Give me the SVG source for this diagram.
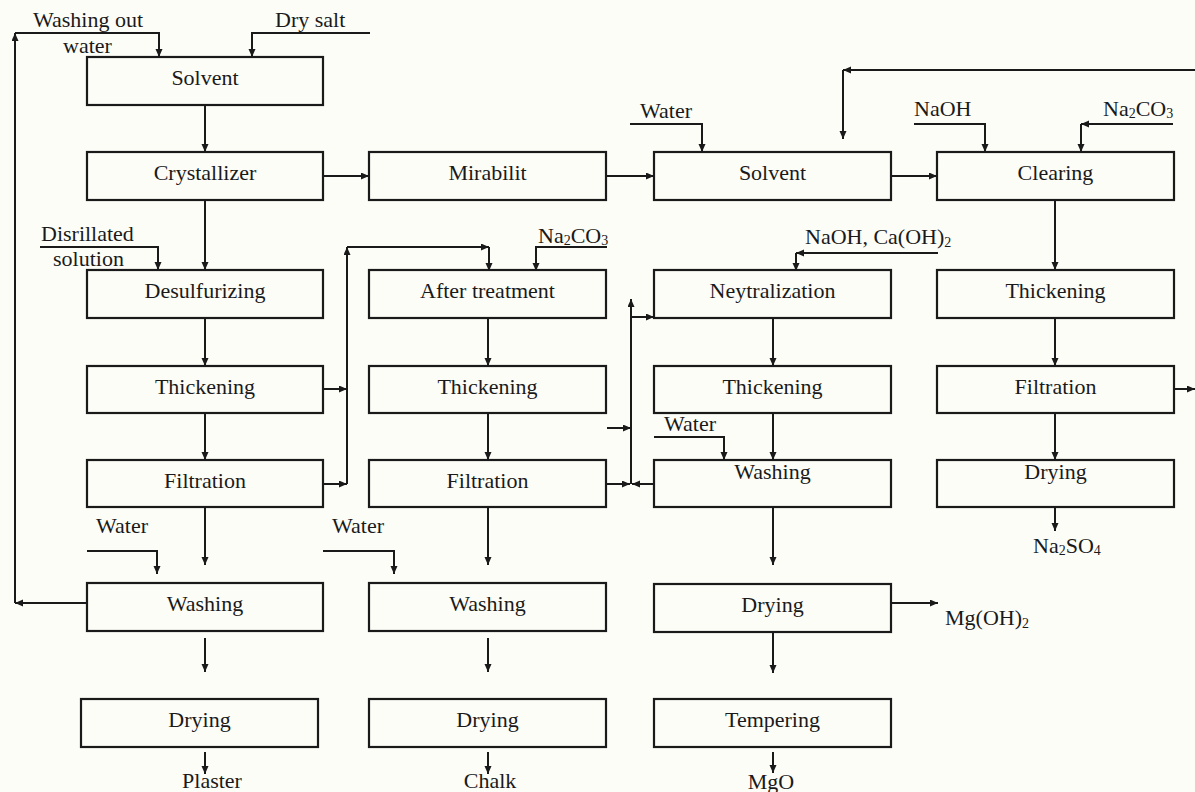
<svg xmlns="http://www.w3.org/2000/svg" width="1195" height="792" viewBox="0 0 1195 792">
<defs>
<marker id="ah" markerWidth="9" markerHeight="8" refX="8" refY="3.5" orient="auto" markerUnits="userSpaceOnUse">
<path d="M0,0 L8,3.5 L0,7 z" fill="#1a1a1a"/>
</marker>
<style>
.box{fill:none;stroke:#1a1a1a;stroke-width:2.2}
.t{font-family:"Liberation Serif","Times New Roman",serif;font-size:22px;fill:#1a1a1a}
.c{text-anchor:middle}
.ln path{fill:none;stroke:#1a1a1a;stroke-width:2}
.a{marker-end:url(#ah)}
</style>
</defs>
<rect width="1195" height="792" fill="#fdfdf7"/>

<g id="n-solvent1"><rect class="box" x="87" y="57" width="236" height="48"/><text class="t c" x="205" y="85">Solvent</text></g>
<g id="n-crystallizer"><rect class="box" x="87" y="152" width="236" height="48"/><text class="t c" x="205" y="180">Crystallizer</text></g>
<g id="n-desulfurizing"><rect class="box" x="87" y="270" width="236" height="48"/><text class="t c" x="205" y="298">Desulfurizing</text></g>
<g id="n-thick1"><rect class="box" x="87" y="366" width="236" height="47"/><text class="t c" x="205" y="394">Thickening</text></g>
<g id="n-filt1"><rect class="box" x="87" y="460" width="236" height="47"/><text class="t c" x="205" y="488">Filtration</text></g>
<g id="n-wash1"><rect class="box" x="87" y="583" width="236" height="48"/><text class="t c" x="205" y="611">Washing</text></g>
<g id="n-dry1"><rect class="box" x="81" y="699" width="237" height="48"/><text class="t c" x="199.5" y="727">Drying</text></g>

<g id="n-mirabilit"><rect class="box" x="369" y="152" width="237" height="48"/><text class="t c" x="487.5" y="180">Mirabilit</text></g>
<g id="n-after"><rect class="box" x="369" y="270" width="237" height="48"/><text class="t c" x="487.5" y="298">After treatment</text></g>
<g id="n-thick2"><rect class="box" x="369" y="366" width="237" height="47"/><text class="t c" x="487.5" y="394">Thickening</text></g>
<g id="n-filt2"><rect class="box" x="369" y="460" width="237" height="47"/><text class="t c" x="487.5" y="488">Filtration</text></g>
<g id="n-wash2"><rect class="box" x="369" y="583" width="237" height="48"/><text class="t c" x="487.5" y="611">Washing</text></g>
<g id="n-dry2"><rect class="box" x="369" y="699" width="237" height="48"/><text class="t c" x="487.5" y="727">Drying</text></g>

<g id="n-solvent2"><rect class="box" x="654" y="152" width="237" height="48"/><text class="t c" x="772.5" y="180">Solvent</text></g>
<g id="n-neytr"><rect class="box" x="654" y="270" width="237" height="48"/><text class="t c" x="772.5" y="298">Neytralization</text></g>
<g id="n-thick3"><rect class="box" x="654" y="366" width="237" height="47"/><text class="t c" x="772.5" y="394">Thickening</text></g>
<g id="n-wash3"><rect class="box" x="654" y="460" width="237" height="47"/><text class="t c" x="772.5" y="479">Washing</text></g>
<g id="n-dry3"><rect class="box" x="654" y="584" width="237" height="48"/><text class="t c" x="772.5" y="612">Drying</text></g>
<g id="n-temper"><rect class="box" x="654" y="699" width="237" height="48"/><text class="t c" x="772.5" y="727">Tempering</text></g>

<g id="n-clearing"><rect class="box" x="937" y="152" width="237" height="48"/><text class="t c" x="1055.5" y="180">Clearing</text></g>
<g id="n-thick4"><rect class="box" x="937" y="270" width="237" height="48"/><text class="t c" x="1055.5" y="298">Thickening</text></g>
<g id="n-filt4"><rect class="box" x="937" y="366" width="237" height="47"/><text class="t c" x="1055.5" y="394">Filtration</text></g>
<g id="n-dry4"><rect class="box" x="937" y="460" width="237" height="47"/><text class="t c" x="1055.5" y="479">Drying</text></g>

<g id="labels">
<text class="t" x="33" y="27">Washing out</text>
<text class="t" x="63" y="53">water</text>
<text class="t" x="275" y="27">Dry salt</text>
<text class="t" x="41" y="241">Disrillated</text>
<text class="t" x="53" y="266">solution</text>
<text class="t" x="96" y="533">Water</text>
<text class="t" x="332" y="533">Water</text>
<text class="t c" x="212" y="788">Plaster</text>
<text class="t c" x="490" y="788">Chalk</text>
<text class="t c" x="771" y="789">MgO</text>
<text class="t" x="1033" y="553">Na<tspan font-size="14" dy="2">2</tspan><tspan dy="-2">SO</tspan><tspan font-size="14" dy="2">4</tspan></text>
<text class="t" x="945" y="625">Mg(OH)<tspan font-size="14" dy="3">2</tspan></text>
<text class="t" x="640" y="118">Water</text>
<text class="t" x="914" y="116">NaOH</text>
<text class="t" x="1103" y="116">Na<tspan font-size="14" dy="2">2</tspan><tspan dy="-2">CO</tspan><tspan font-size="14" dy="2">3</tspan></text>
<text class="t" x="538" y="243">Na<tspan font-size="14" dy="2">2</tspan><tspan dy="-2">CO</tspan><tspan font-size="14" dy="2">3</tspan></text>
<text class="t" x="805" y="244">NaOH, Ca(OH)<tspan font-size="14" dy="3">2</tspan></text>
<text class="t" x="664" y="431">Water</text>
</g>

<g id="connectors" class="ln">
<path class="a" d="M205,105 V152"/>
<path class="a" d="M205,200 V270"/>
<path class="a" d="M205,318 V366"/>
<path class="a" d="M205,413 V460"/>
<path class="a" d="M205,507 V565"/>
<path class="a" d="M87,551 H157 V574"/>
<path class="a" d="M87,603 H15"/>
<path class="a" d="M15,603 V33"/>
<path class="a" d="M15,33 H159 V57"/>
<path class="a" d="M370,33 H252 V57"/>
<path class="a" d="M205,638 V672"/>
<path class="a" d="M205,752 V774"/>
<path class="a" d="M323,176 H369"/>
<path class="a" d="M40,247 H158 V270"/>
<path class="a" d="M323,389 H347"/>
<path class="a" d="M323,484 H347"/>
<path class="a" d="M347,484 V247"/>
<path class="a" d="M347,247 H489"/>
<path class="a" d="M489,247 V271"/>
<path class="a" d="M607,247 H536 V271"/>
<path class="a" d="M488,318 V366"/>
<path class="a" d="M488,413 V460"/>
<path class="a" d="M488,507 V565"/>
<path class="a" d="M323,551 H394 V574"/>
<path class="a" d="M488,638 V672"/>
<path class="a" d="M488,752 V774"/>
<path class="a" d="M606,176 H654"/>
<path class="a" d="M630,124 H702 V152"/>
<path class="a" d="M891,176 H937"/>
<path class="a" d="M1195,70 H843"/>
<path class="a" d="M843,70 V139"/>
<path class="a" d="M914,124 H985 V152"/>
<path class="a" d="M1173,124 H1081"/>
<path class="a" d="M1081,124 V152"/>
<path class="a" d="M938,253 H796"/>
<path class="a" d="M796,253 V271"/>
<path class="a" d="M631,484 V299"/>
<path class="a" d="M631,317 H654"/>
<path class="a" d="M607,428 H631"/>
<path class="a" d="M606,484 H630"/>
<path class="a" d="M654,484 H632"/>
<path class="a" d="M773,318 V366"/>
<path class="a" d="M773,413 V460"/>
<path class="a" d="M654,437 H724 V460"/>
<path class="a" d="M773,507 V565"/>
<path class="a" d="M773,632 V673"/>
<path class="a" d="M773,752 V773"/>
<path class="a" d="M891,603 H938"/>
<path class="a" d="M1055,200 V270"/>
<path class="a" d="M1055,318 V366"/>
<path class="a" d="M1055,413 V460"/>
<path class="a" d="M1055,507 V531"/>
<path class="a" d="M1174,389 H1195"/>
</g>
</svg>
